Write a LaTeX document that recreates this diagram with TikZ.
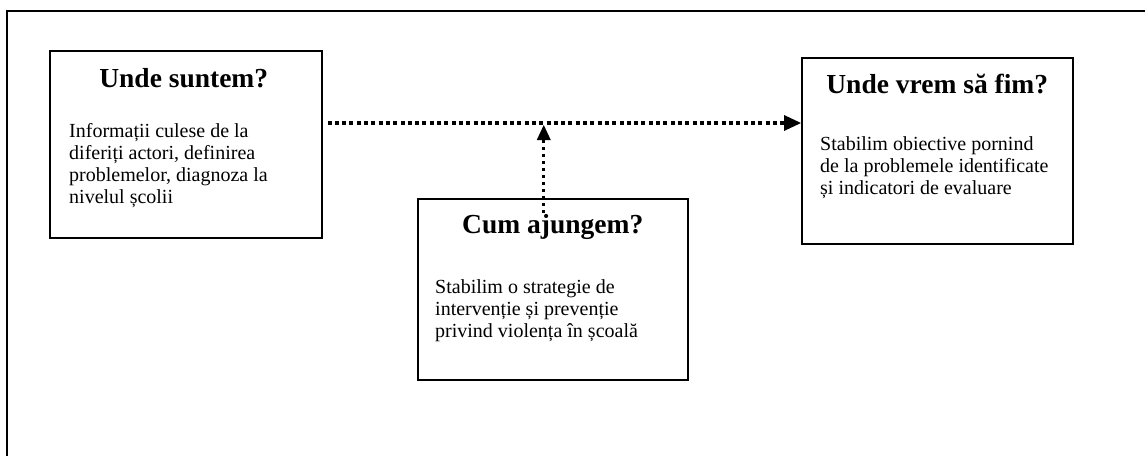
\documentclass[tikz,border=0pt]{standalone}
\usepackage{fontspec}
\setmainfont{Liberation Serif}
\usetikzlibrary{arrows.meta,calc}
\tikzset{
  box/.style={draw, line width=1.5pt, rectangle, inner sep=0pt, anchor=north west},
  ttl/.style={inner sep=0pt, anchor=base, font=\fontsize{27.5}{30}\selectfont\bfseries},
  body/.style={inner sep=0pt, anchor=base west, font=\fontsize{20}{22.3}\selectfont},
  dotarrow/.style={line width=3.8pt, dash pattern=on 4pt off 3.3pt,
     -{Triangle[length=17pt,width=16pt,line width=0pt]}},
  vdotarrow/.style={line width=3.2pt, dash pattern=on 3.4pt off 3.6pt,
     -{Triangle[length=15pt,width=14pt,line width=0pt]}},
}
\begin{document}
\begin{tikzpicture}[x=1pt,y=-1pt]
\useasboundingbox (0,0) rectangle (1145,455);
% outer frame (partially visible)
\draw[line width=2pt] (7,470) -- (7,11) -- (1160,11);
% boxes
\node[box, minimum width=272pt, minimum height=187pt] (b1) at (49,50) {};
\node[box, minimum width=270pt, minimum height=181pt] (b2) at (417,198) {};
\node[box, minimum width=271pt, minimum height=186pt] (b3) at (801,57) {};
% titles
\node[ttl] (t1) at ($(b1.north)+(-2,37)$) {Unde suntem?};
\node[ttl] (t2) at ($(b2.north)+(0,35)$) {Cum ajungem?};
\node[ttl] (t3) at ($(b3.north)+(0,36)$) {Unde vrem să fim?};
% bodies
\node[body] (x1) at ($(b1.north west)+(20,87)$) {\parbox[t]{260pt}{\raggedright Informații culese de la\\diferiți actori, definirea\\problemelor, diagnoza la\\nivelul școlii}};
\node[body] (x2) at ($(b2.north west)+(18,95)$) {\parbox[t]{260pt}{\raggedright Stabilim o strategie de\\intervenție și prevenție\\privind violența în școală}};
\node[body] (x3) at ($(b3.north west)+(19,93)$) {\parbox[t]{260pt}{\raggedright Stabilim obiective pornind\\de la problemele identificate\\și indicatori de evaluare}};
% connectors
\coordinate (hs) at ($(b1.north east)+(5,73)$);
\coordinate (he) at ($(b3.north west)+(0,66)$);
\draw[dotarrow] (hs) -- (he);
\coordinate (vs) at ($(b2.north)+(-9,15)$);
\coordinate (ve) at ($(hs)!(vs)!(he)+(0,2)$);
\draw[vdotarrow] (vs) -- (ve);
\end{tikzpicture}
\end{document}
